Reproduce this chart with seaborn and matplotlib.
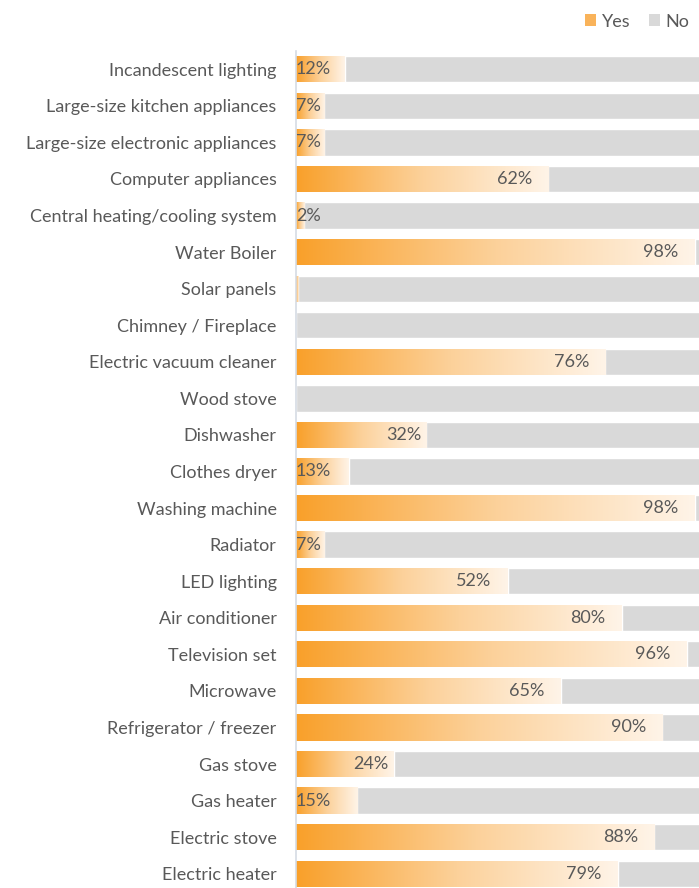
import numpy as np
import pandas as pd
import matplotlib.pyplot as plt
import seaborn as sns
from matplotlib.colors import LinearSegmentedColormap
from matplotlib.patches import Patch

# appliance categories, top to bottom
appliances = [
    "Incandescent lighting", "Large-size kitchen appliances",
    "Large-size electronic appliances", "Computer appliances",
    "Central heating/cooling system", "Water Boiler", "Solar panels",
    "Chimney / Fireplace", "Electric vacuum cleaner", "Wood stove",
    "Dishwasher", "Clothes dryer", "Washing machine", "Radiator",
    "LED lighting", "Air conditioner", "Television set", "Microwave",
    "Refrigerator / freezer", "Gas stove", "Gas heater", "Electric stove",
    "Electric heater",
]
yes_pct = [12, 7, 7, 62, 2, 98, 0.5, 0, 76, 0, 32, 13, 98, 7, 52, 80, 96, 65,
           90, 24, 15, 88, 79]
total_pct = [100] * len(appliances)

df = pd.DataFrame({"appliance": appliances, "Yes": yes_pct, "Total": total_pct})

ORANGE = "#F9A02A"
GRAY = "#D9D9D9"
TEXT = "#595959"
FS = 13

sns.set_theme(style="white")
plt.rcParams["font.family"] = ["Lato", "DejaVu Sans"]

fig = plt.figure(figsize=(6.99, 8.88), dpi=100)
ax = fig.add_axes([296 / 699, -4 / 888, 1 - 296 / 699, 841 / 888])

sns.barplot(data=df, y="appliance", x="Total", order=appliances, color=GRAY,
            saturation=1, width=0.72, ax=ax)
n_gray = len(ax.patches)
sns.barplot(data=df, y="appliance", x="Yes", order=appliances, color=ORANGE,
            saturation=1, width=0.72, ax=ax)

grad = LinearSegmentedColormap.from_list("fade", [ORANGE, "#FCD19A", "#FFF4E8"])
ramp = np.linspace(0, 1, 256).reshape(1, -1)
yes_bars = ax.patches[n_gray:]
for bar, v in zip(yes_bars, yes_pct):
    if v <= 0:
        bar.set_visible(False)
        continue
    x0, y0 = bar.get_x(), bar.get_y()
    w, h = bar.get_width(), bar.get_height()
    bar.set_facecolor("white")
    im = ax.imshow(ramp, cmap=grad, aspect="auto", interpolation="bilinear",
                   extent=[x0, x0 + w, y0 + h, y0], zorder=bar.get_zorder() + 0.1)
    im.set_clip_path(bar)

    # percentage labels
    if v < 1:
        continue
    label = f"{v:.0f}%"
    yc = y0 + h / 2
    if v < 20:
        ax.text(0.0, yc, label, ha="left", va="center", fontsize=FS,
                color=TEXT, zorder=10)
    else:
        pad = 4 if v >= 50 else 1.3
        ax.text(v - pad, yc, label, ha="right", va="center", fontsize=FS,
                color=TEXT, zorder=10)

ax.set_xlim(0, 99)
ax.set_ylim(len(appliances) - 0.5, -0.5)
ax.set_xlabel("")
ax.set_ylabel("")
ax.set_xticks([])
ax.tick_params(axis="y", length=0, pad=14, labelsize=FS, labelcolor=TEXT)
for side in ["top", "right", "bottom"]:
    ax.spines[side].set_visible(False)
ax.spines["left"].set_color("#D6DCE4")
ax.spines["left"].set_linewidth(1.2)

handles = [Patch(facecolor="#F9B35A", edgecolor="none", label="Yes"),
           Patch(facecolor=GRAY, edgecolor="none", label="No")]
fig.legend(handles=handles, loc="upper right", bbox_to_anchor=(1.01, 1.003),
           ncol=2, frameon=False, fontsize=FS, labelcolor=TEXT,
           handlelength=0.6, handleheight=0.6, handletextpad=0.35,
           columnspacing=1.0)

fig.savefig("out.png", dpi=100)
